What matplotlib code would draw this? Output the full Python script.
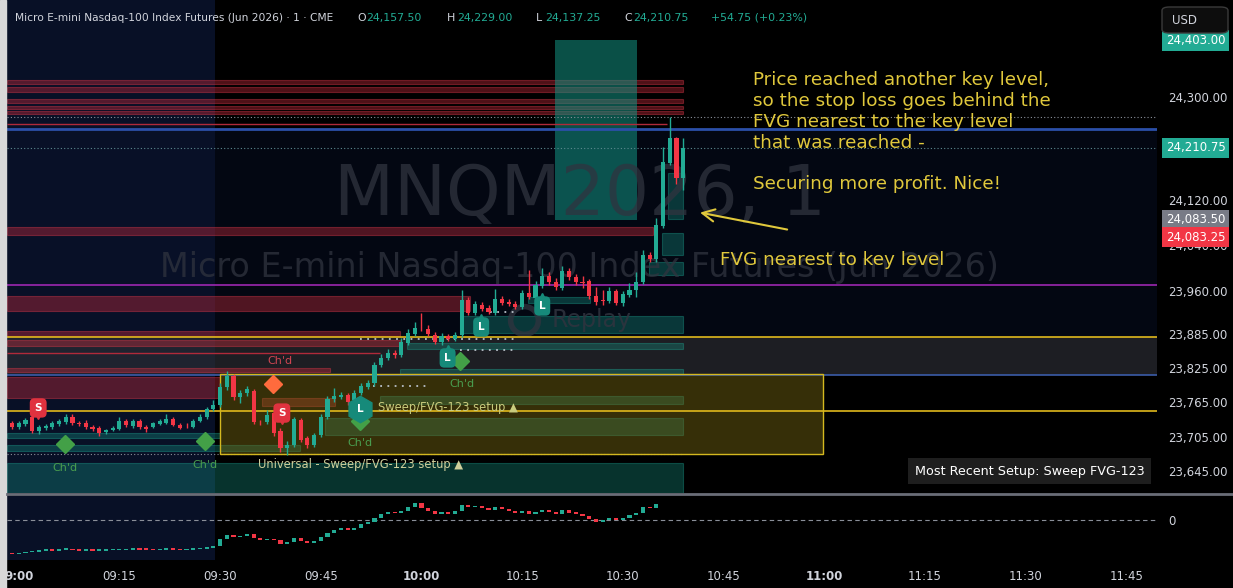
import numpy as np
import matplotlib.pyplot as plt
from matplotlib.lines import Line2D
from matplotlib.patches import Rectangle, FancyBboxPatch
from matplotlib.ticker import FuncFormatter

W, H = 1233, 588

# 1-minute candles, first bar is 08:59 (x = minutes from 09:00)
opens = [23729.0, 23722.0, 23727.25, 23739.5, 23715.0, 23720.25, 23722.0, 23727.25, 23730.75, 23739.5,
         23729.0, 23729.0, 23722.0, 23720.25, 23713.25, 23716.75, 23718.5, 23732.5, 23723.75, 23732.5,
         23722.0, 23722.0, 23727.25, 23729.0, 23736.0, 23725.5, 23723.75, 23722.0, 23732.5, 23739.5,
         23753.5, 23760.5, 23792.0, 23811.5, 23774.5, 23781.5, 23785.0, 23730.75, 23730.75, 23746.5,
         23715.0, 23685.25, 23690.5, 23734.5, 23702.75, 23690.5, 23708.0, 23739.5, 23771.0, 23774.5,
         23778.0, 23769.5, 23781.5, 23792.0, 23799.25, 23830.75, 23843.0, 23851.75, 23848.25, 23869.25,
         23885.0, 23895.5, 23893.75, 23883.25, 23871.0, 23881.5, 23876.25, 23883.25, 23944.5, 23921.75,
         23935.75, 23930.5, 23921.75, 23946.25, 23941.0, 23937.5, 23932.25, 23956.75, 23948.0, 23969.0,
         23986.5, 23976.0, 23965.5, 23995.25, 23984.75, 23976.0, 23977.75, 23951.5, 23944.5, 23942.75,
         23960.25, 23939.25, 23953.25, 23962.0, 23976.0, 24023.25, 24016.25, 24074.25, 24184.5, 24228.25,
         24157.5]
highs = [23732.5, 23732.5, 23738.0, 23748.5, 23725.5, 23727.25, 23732.5, 23736.0, 23745.0, 23745.0,
         23732.5, 23734.5, 23725.5, 23723.75, 23718.5, 23723.75, 23739.5, 23736.0, 23736.0, 23736.0,
         23725.5, 23730.75, 23736.0, 23745.0, 23739.5, 23729.0, 23729.0, 23736.0, 23745.0, 23757.0,
         23769.5, 23799.25, 23820.0, 23815.0, 23787.0, 23794.0, 23788.5, 23734.5, 23752.0, 23750.0,
         23720.25, 23697.5, 23739.5, 23738.0, 23706.5, 23711.5, 23745.0, 23776.5, 23790.5, 23783.25,
         23781.5, 23787.0, 23799.25, 23804.5, 23836.0, 23850.0, 23858.75, 23857.0, 23878.0, 23893.75,
         23906.0, 23922.0, 23900.75, 23888.5, 23886.75, 23885.0, 23888.5, 23962.0, 23949.75, 23942.75,
         23941.0, 23935.75, 23963.75, 23951.5, 23946.25, 23942.75, 23962.0, 23997.0, 23977.75, 24000.5,
         23993.5, 23983.0, 24004.0, 24000.5, 23990.0, 23986.5, 23981.25, 23967.25, 23962.0, 23967.25,
         23963.75, 23960.25, 23974.25, 23993.5, 24032.0, 24028.5, 24088.25, 24212.5, 24265.0, 24230.0,
         24229.0]
lows = [23718.5, 23718.5, 23724.0, 23711.5, 23710.0, 23716.75, 23718.5, 23724.0, 23727.25, 23725.5,
        23724.0, 23718.5, 23715.0, 23706.5, 23710.0, 23715.0, 23716.75, 23722.0, 23720.25, 23718.5,
        23713.25, 23720.25, 23725.5, 23727.25, 23723.75, 23718.5, 23720.25, 23720.25, 23730.75, 23736.0,
        23750.0, 23757.0, 23787.0, 23769.5, 23764.0, 23776.5, 23727.25, 23725.5, 23727.25, 23706.0,
        23678.25, 23673.0, 23687.0, 23695.75, 23685.25, 23687.0, 23704.5, 23736.0, 23766.0, 23771.0,
        23760.5, 23766.0, 23778.0, 23788.5, 23794.0, 23827.25, 23839.5, 23843.0, 23844.5, 23865.75,
        23881.5, 23890.25, 23881.5, 23867.5, 23865.75, 23872.75, 23872.75, 23879.75, 23918.25, 23918.25,
        23925.25, 23920.0, 23918.25, 23935.75, 23933.75, 23928.75, 23928.75, 23946.25, 23944.5, 23965.5,
        23970.75, 23962.0, 23962.0, 23979.5, 23970.75, 23965.5, 23946.25, 23935.75, 23935.75, 23939.25,
        23935.75, 23933.75, 23949.75, 23949.75, 23972.5, 24011.0, 24011.0, 24070.75, 24181.0, 24147.5,
        24137.25]
closes = [23722.0, 23729.0, 23734.5, 23715.0, 23722.0, 23723.75, 23729.0, 23732.5, 23739.5, 23729.0,
          23727.25, 23722.0, 23718.5, 23711.5, 23716.75, 23720.25, 23732.5, 23725.5, 23732.5, 23722.0,
          23718.5, 23729.0, 23732.5, 23736.0, 23725.5, 23720.25, 23723.0, 23732.5, 23739.5, 23753.5,
          23760.5, 23792.0, 23811.5, 23774.5, 23781.5, 23788.5, 23730.75, 23730.0, 23743.0, 23711.5,
          23685.25, 23690.5, 23736.0, 23699.25, 23690.5, 23708.0, 23739.5, 23771.0, 23776.5, 23778.0,
          23766.0, 23781.5, 23794.0, 23799.25, 23830.75, 23843.0, 23851.75, 23848.25, 23871.0, 23886.75,
          23895.5, 23894.75, 23885.0, 23871.0, 23881.5, 23876.25, 23883.25, 23944.5, 23921.75, 23937.5,
          23928.75, 23923.5, 23946.25, 23939.25, 23937.5, 23932.25, 23956.75, 23949.75, 23970.75, 23986.5,
          23976.0, 23967.25, 23995.25, 23984.75, 23976.0, 23975.0, 23951.5, 23941.0, 23943.5, 23960.25,
          23939.25, 23955.0, 23962.0, 23976.0, 24023.25, 24016.25, 24076.0, 24186.25, 24228.25, 24157.5,
          24210.75]

# lower pane oscillator, one value per bar
osc = [-34, -33, -32, -31.5, -30.5, -30, -30.5, -29.8, -29.8, -30.2,
       -30.5, -30.5, -30.8, -30.5, -30.2, -30.2, -30.0, -29.5, -29.2, -29.6,
       -29.8, -30.0, -29.8, -29.6, -29.7, -29.9, -29.6, -29.3, -28.5, -27.5,
       -26, -19.3, -15, -17, -16, -13.5, -18, -20, -18.5, -20,
       -24, -22, -18, -21, -23, -21, -16.5, -13, -10, -7.5,
       -9.5, -7.5, -4, -1.5, 2.5, 6.5, 8.5, 7, 9, 13,
       16.5, 12, 9, 6, 8, 6.5, 9, 15, 12.5, 13.5,
       12, 10, 13, 10.5, 9, 7, 9, 6, 8, 10,
       8, 6.5, 10, 7.5, 6.5, 4.5, 1, -1.5, 0, 2,
       0, 2.5, 5, 7.5, 13, 11.5, 16]

price_ticks = [24300, 24210, 24120, 24040, 23960, 23885, 23825, 23765, 23705, 23645]
time_ticks = [0, 15, 30, 45, 60, 75, 90, 105, 120, 135, 150, 165]
time_labels = ['9:00', '09:15', '09:30', '09:45', '10:00', '10:15', '10:30', '10:45',
               '11:00', '11:15', '11:30', '11:45']

# zones: (start min, end min, low, high)
red_zones = [(-1.75, 99.0, 24322.75, 24329.75), (-1.75, 99.0, 24308.75, 24317.5),
             (-1.75, 99.0, 24289.5, 24296.5), (-1.75, 99.0, 24279.0, 24284.25),
             (-1.75, 99.0, 24270.25, 24275.5), (-1.75, 94.5, 24058.5, 24072.5),
             (-1.75, 67.3, 23925.25, 23951.5), (-1.75, 56.8, 23881.5, 23890.0),
             (-1.75, 56.8, 23864.0, 23874.5), (-1.75, 46.4, 23818.5, 23825.5),
             (-1.75, 30.0, 23773.0, 23809.5), (36.3, 47.1, 23758.75, 23773.0)]
teal_zones = [(65.8, 99.0, 23886.75, 23916.5), (75.9, 85.1, 23939.25, 23949.75),
              (57.9, 99.0, 23859.0, 23869.5), (56.8, 99.0, 23815.0, 23823.5),
              (53.8, 99.0, 23762.25, 23776.5), (45.6, 99.0, 23708.0, 23738.0),
              (-1.75, 30.0, 23703.0, 23711.5), (-1.75, 41.9, 23680.0, 23690.5),
              (-1.75, 99.0, 23606.5, 23659.0), (96.8, 99.0, 24086.5, 24167.0),
              (95.9, 99.0, 24023.25, 24061.75), (93.9, 99.0, 23988.25, 24011.0)]
target_box = (79.9, 92.1, 24084.5, 24400.0)
setup_box = (30.0, 119.9, 23674.75, 23815.0)

s_signals = [(2.9, 23755.5), (39.2, 23746.5)]
l_signals = [(78.0, 23934.0), (68.9, 23897.25), (63.9, 23843.0)]
green_diamonds = [(6.9, 23692.25), (27.8, 23697.5), (65.8, 23837.75), (50.9, 23733.0)]
chd_green = [(6.9, 23650.25), (27.8, 23655.5), (50.9, 23694.0), (66.1, 23797.5)]

UP, DN = '#22ab94', '#f23645'
TXT = '#d1d4dc'
YEL = '#e0c83c'
WM = '#30343f'
XL = (-1.75, 169.6)

fig = plt.figure(figsize=(W / 100, H / 100), dpi=100, facecolor='black')
ax = fig.add_axes([7 / W, 1 - 493 / H, 1150 / W, 493 / H])
ax2 = fig.add_axes([7 / W, 1 - 560 / H, 1150 / W, 64 / H])
for a in (ax, ax2):
    a.set_facecolor('black')
    for s in a.spines.values():
        s.set_visible(False)
    a.set_xlim(*XL)
    a.axvspan(XL[0], 29.25, color='#0b1634', alpha=0.75, zorder=0, lw=0)

ax.set_ylim(23606.5, 24469.9)
ax2.set_ylim(-40, 24)

# background zones
ax.axhspan(23879.75, 24244.0, color='#08102a', alpha=0.45, zorder=0.2, lw=0)
ax.axhspan(23813.0, 23879.75, color='#2a2c33', alpha=0.7, zorder=0.3, lw=0)
for x0, x1, lo, hi in red_zones:
    ax.add_patch(Rectangle((x0, lo), x1 - x0, hi - lo, fc='#c42b3c', ec='#e0394a',
                           alpha=0.4, lw=0.8, zorder=1))
for x0, x1, lo, hi in teal_zones:
    ax.add_patch(Rectangle((x0, lo), x1 - x0, hi - lo, fc='#169383', ec='#1fae9a',
                           alpha=0.35, lw=0.8, zorder=1))
x0, x1, lo, hi = target_box
ax.add_patch(Rectangle((x0, lo), x1 - x0, hi - lo, fc='#139383', alpha=0.55, lw=0, zorder=1.1))
x0, x1, lo, hi = setup_box
ax.add_patch(Rectangle((x0, lo), x1 - x0, hi - lo, fc='#7a6a12', alpha=0.45, lw=0, zorder=1.2))
ax.add_patch(Rectangle((x0, lo), x1 - x0, hi - lo, fill=False, ec='#d4b81f', lw=1, zorder=2.5))

# horizontal levels
ax.hlines(24252.75, -1.75, 96.6, color='#b02a3a', lw=1, zorder=2)
ax.hlines(23851.75, -1.75, 53.8, color='#b02a3a', lw=1, zorder=2)
ax.axhline(24244.0, color='#2b4fa8', lw=2, zorder=2)
ax.axhline(23813.0, color='#3b5ca8', lw=1.2, zorder=2)
ax.axhline(23970.75, color='#9c27b0', lw=1.2, zorder=2)
ax.axhline(23879.75, color='#e0b81c', lw=1.2, zorder=2)
ax.axhline(23750.0, color='#e0b81c', lw=1.2, zorder=2)
ax.axhline(24265.0, color='#8a8f99', lw=0.8, ls=(0, (1, 2)), zorder=2)
ax.axhline(24210.75, color='#5d8a90', lw=0.8, ls=(0, (1, 2)), zorder=2)
ax.hlines(23674.75, -1.75, 99.0, color='#8a8f99', lw=0.8, ls=(0, (1, 2)), zorder=2)
for y, a0, a1 in [(23876.25, 50.9, 74.0), (23857.0, 65.8, 74.0), (23923.5, 70.2, 74.0), (23794.0, 52.8, 60.8)]:
    ax.hlines(y, a0, a1, color='#b8c0c8', lw=1.3, ls=(0, (1, 3)), zorder=2.6)

# watermark
ax.text(83.6, 24128.0, 'MNQM2026, 1', fontsize=50, color=WM, alpha=0.75,
        ha='center', va='center', zorder=1.5)
ax.text(83.6, 24002.0, 'Micro E-mini Nasdaq-100 Index Futures (Jun 2026)', fontsize=24,
        color=WM, alpha=0.75, ha='center', va='center', zorder=1.5)
ax.plot([75.3], [23909.5], 'o', ms=20, mfc='none', mec=WM, mew=4, alpha=0.75, zorder=1.5)
ax.text(79.4, 23909.5, 'Replay', fontsize=17, color=WM, alpha=0.85,
        ha='left', va='center', zorder=1.5)

# candles
o = np.array(opens); c = np.array(closes)
x = np.arange(len(o)) - 1
col = [UP if cc >= oo else DN for oo, cc in zip(o, c)]
ax.vlines(x, lows, highs, colors=col, lw=1, zorder=3.9)
ax.bar(x, np.maximum(np.abs(c - o), 1.0), bottom=np.minimum(o, c), width=0.62,
       color=col, zorder=4)

# signals
for sx, sy in s_signals:
    ax.plot([sx], [sy - 9], 'v', ms=9, color='#e0323f', zorder=5)
    ax.text(sx, sy, 'S', color='white', fontsize=7.5, fontweight='bold', ha='center', va='center',
            zorder=5.5, bbox=dict(boxstyle='round,pad=0.45', fc='#e0323f', ec='none'))
for sx, sy in l_signals:
    ax.plot([sx], [sy + 10], '^', ms=10, color='#168a7a', zorder=5)
    ax.text(sx, sy, 'L', color='white', fontsize=7.5, fontweight='bold', ha='center', va='center',
            zorder=5.5, bbox=dict(boxstyle='round,pad=0.45', fc='#168a7a', ec='none'))
for dx, dy in green_diamonds:
    ax.plot([dx], [dy], 'D', ms=9, color='#43a047', zorder=5)
ax.plot([50.9], [23753.5], 'h', ms=19, color='#168a7a', zorder=5.2)
ax.text(50.9, 23753.5, 'L', color='white', fontsize=7.5, fontweight='bold', ha='center',
        va='center', zorder=5.5)
ax.plot([37.9], [23797.25], 'D', ms=9, color='#ff6b3d', zorder=5)
for tx, ty in chd_green:
    ax.text(tx, ty, "Ch'd", color='#4a9e4f', fontsize=8, ha='center', va='center', zorder=5)
ax.text(38.9, 23837.75, "Ch'd", color='#d04552', fontsize=8, ha='center', va='center', zorder=5)
ax.text(53.5, 23755.5, 'Sweep/FVG-123 setup \u25b2', color='#c9cc7e', fontsize=8.3,
        ha='left', va='center', zorder=5)
ax.text(35.7, 23657.25, 'Universal - Sweep/FVG-123 setup \u25b2', color='#d0d09c', fontsize=8.3,
        ha='left', va='center', zorder=5)

# annotations
ax.text(109.4, 24345.0, 'Price reached another key level,\nso the stop loss goes behind the\n'
        'FVG nearest to the key level\nthat was reached -\n\nSecuring more profit. Nice!',
        color=YEL, fontsize=13.2, ha='left', va='top', linespacing=1.2, zorder=6)
ax.text(104.5, 24014.5, 'FVG nearest to key level', color=YEL, fontsize=13.2,
        ha='left', va='center', zorder=6)
ax.annotate('', xy=(101.1, 24098.5), xytext=(114.9, 24067.0),
            arrowprops=dict(arrowstyle='->', color=YEL, lw=1.5, mutation_scale=22), zorder=6)
ax.text(150.6, 23645.0, 'Most Recent Setup: Sweep FVG-123', color='white', fontsize=9.2,
        ha='center', va='center', zorder=6,
        bbox=dict(boxstyle='square,pad=0.5', fc='#1e1e1e', ec='none'))

# price scale
ax.yaxis.tick_right()
ax.set_yticks(price_ticks)
ax.yaxis.set_major_formatter(FuncFormatter(lambda v, p: f'{v:,.2f}'))
ax.tick_params(axis='y', length=0, pad=8, labelcolor=TXT, labelsize=8.5)
ax.set_xticks([])

for price, txt, fc, yoff in [(24399.0, '24,403.00', '#22ab94', 0), (24210.75, '24,210.75', '#22ab94', 0),
                             (24083.5, '24,083.50', '#787b86', 0.5), (24083.25, '24,083.25', '#f23645', -12)]:
    ax.annotate(txt, xy=(1, price), xycoords=('axes fraction', 'data'), xytext=(6.5, yoff),
                textcoords='offset points', ha='left', va='center', fontsize=8.5, color='white',
                annotation_clip=False, zorder=10,
                bbox=dict(boxstyle='square,pad=0.3', fc=fc, ec='none'))

# oscillator pane
ov = np.array(osc, dtype=float)
oo = np.concatenate([[ov[0] + 1.5], ov[:-1]])
ocol = [UP if b >= a else DN for a, b in zip(oo, ov)]
ox = np.arange(len(ov)) - 1
ax2.bar(ox, np.maximum(np.abs(ov - oo), 1.4), bottom=np.minimum(oo, ov), width=0.62,
        color=ocol, zorder=3)
ax2.axhline(0, color='#8a8f99', lw=0.8, ls=(0, (4, 3)), zorder=2)
ax2.yaxis.tick_right()
ax2.set_yticks([0])
ax2.tick_params(axis='y', length=0, pad=8, labelcolor=TXT, labelsize=8.5)
ax2.set_xticks(time_ticks)
ax2.set_xticklabels(time_labels)
ax2.tick_params(axis='x', length=0, pad=7.5, labelcolor=TXT, labelsize=8.5)
for lab in ax2.get_xticklabels():
    if lab.get_text() in ('9:00', '10:00', '11:00'):
        lab.set_fontweight('bold')

# frame pieces
fig.add_artist(Line2D([7 / W, 1], [1 - 494 / H] * 2, color='#6a6d78', lw=2))
fig.add_artist(Rectangle((0, 0), 6 / W, 1, transform=fig.transFigure, color='#d8d8d8'))
fig.add_artist(FancyBboxPatch((1162 / W, 1 - 33 / H), 66 / W, 26 / H, transform=fig.transFigure,
                              boxstyle='round,pad=0,rounding_size=0.006', fc='#0d0d0d', ec='#3a3a3a', lw=1))
fig.text(1172 / W, 1 - 20 / H, 'USD', color=TXT, fontsize=8.5, ha='left', va='center')

# header legend
hy = 1 - 18 / H
fig.text(15 / W, hy, 'Micro E-mini Nasdaq-100 Index Futures (Jun 2026) \u00b7 1 \u00b7 CME',
         color=TXT, fontsize=7.7, va='center')
for px, t, cl in [(357, 'O', TXT), (366, '24,157.50', UP), (447, 'H', TXT), (457, '24,229.00', UP),
                  (536, 'L', TXT), (545, '24,137.25', UP), (624, 'C', TXT), (633, '24,210.75', UP),
                  (711, '+54.75 (+0.23%)', UP)]:
    fig.text(px / W, hy, t, color=cl, fontsize=7.9, va='center')

fig.savefig('out.png', dpi=100, facecolor='black')
